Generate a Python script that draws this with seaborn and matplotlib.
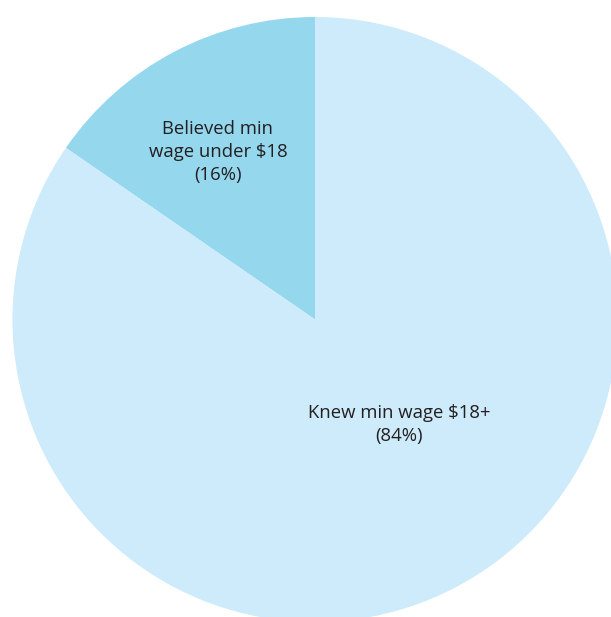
import matplotlib
matplotlib.use("Agg")
import matplotlib.pyplot as plt
import seaborn as sns

categories = ["Believed min\nwage under $18", "Knew min wage $18+"]
values = [15.4, 84.6]
pct_labels = ["(16%)", "(84%)"]
colors = ["#95D8EE", "#CDEBFA"]

sns.set_theme(style="white")
plt.rcParams['font.family'] = ['Open Sans', 'DejaVu Sans']

W, H = 611, 617
fig = plt.figure(figsize=(W / 100, H / 100), dpi=100)
ax = fig.add_axes([0, 0, 1, 1])

cx, cy, R = 315, 319.5, 302.5
# y axis is inverted below, so startangle 270 points up on screen and
# clockwise in data space reads counter-clockwise on screen
wedges, _ = ax.pie(values, colors=colors, startangle=270, counterclock=False,
                   center=(cx, cy), radius=R, frame=True,
                   wedgeprops=dict(linewidth=0))
ax.set_xlim(0, W)
ax.set_ylim(H, 0)
ax.set_aspect('equal')
ax.axis('off')

label_pos = [(218, 152), (399, 424.5)]
for (x, y), cat, pct in zip(label_pos, categories, pct_labels):
    ax.text(x, y, f"{cat}\n{pct}", ha='center', va='center', fontsize=13.3,
            color='#231F20', linespacing=1.38)

fig.savefig("out.png", dpi=100)
